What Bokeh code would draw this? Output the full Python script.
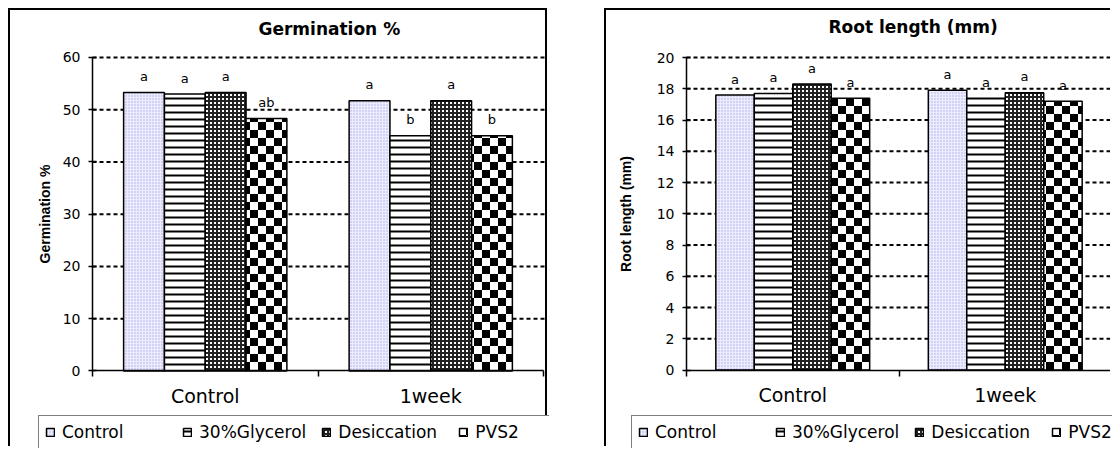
import zlib, struct, base64
from bokeh.plotting import figure
from bokeh.models import (ColumnDataSource, Range1d, FixedTicker, Legend, LegendItem,
                          ImageURLTexture, CustomJSTickFormatter, Spacer, Title)
from bokeh.transform import dodge
from bokeh.layouts import row, column
from bokeh.embed import file_html
from bokeh.resources import INLINE
from bokeh.core.properties import value

# ---------------- data ----------------
periods = ["Control", "1week"]
treatments = ["Control", "30%Glycerol", "Desiccation", "PVS2"]

germ_control = [53.3, 51.7]
germ_glycerol = [53.0, 45.0]
germ_desiccation = [53.3, 51.7]
germ_pvs2 = [48.3, 45.0]
germ_let_control = ["a", "a"]
germ_let_glycerol = ["a", "b"]
germ_let_desiccation = ["a", "a"]
germ_let_pvs2 = ["ab", "b"]
germ_ticks = [0, 10, 20, 30, 40, 50, 60]

root_control = [17.6, 17.9]
root_glycerol = [17.7, 17.4]
root_desiccation = [18.3, 17.75]
root_pvs2 = [17.4, 17.2]
root_let_control = ["a", "a"]
root_let_glycerol = ["a", "a"]
root_let_desiccation = ["a", "a"]
root_let_pvs2 = ["a", "a"]
root_ticks = [0, 2, 4, 6, 8, 10, 12, 14, 16, 18, 20]

# ---------------- styles ----------------
FONT = "DejaVu Sans"
H = 438
BAR_W = 0.181
OFFSETS = [-1.5 * BAR_W, -0.5 * BAR_W, 0.5 * BAR_W, 1.5 * BAR_W]
TOP_PAD = 6   # px of plot area above the highest tick


def checker_png(n=16, sq=8):
    raw = b""
    for yy in range(n):
        line = bytearray([0])
        for xx in range(n):
            v = 0 if ((xx // sq) + (yy // sq)) % 2 else 255
            line += bytes([v, v, v])
        raw += bytes(line)

    def chunk(tag, data):
        return (struct.pack(">I", len(data)) + tag + data +
                struct.pack(">I", zlib.crc32(tag + data) & 0xffffffff))

    ihdr = struct.pack(">IIBBBBB", n, n, 8, 2, 0, 0, 0)
    png = (b"\x89PNG\r\n\x1a\n" + chunk(b"IHDR", ihdr) +
           chunk(b"IDAT", zlib.compress(raw)) + chunk(b"IEND", b""))
    return "data:image/png;base64," + base64.b64encode(png).decode()


CHECKER_URL = checker_png()


def bar_styles():
    return [
        dict(fill_color="#ececfc", hatch_pattern="dot", hatch_color="#a9a9ec",
             hatch_scale=3, hatch_weight=1.2),
        dict(fill_color="white", hatch_pattern="horizontal_line", hatch_color="black",
             hatch_scale=7, hatch_weight=2),
        dict(fill_color="white", hatch_pattern="cross", hatch_color="#222222",
             hatch_scale=4, hatch_weight=2),
        dict(fill_color="white", hatch_pattern=value("checker"), hatch_color="black",
             hatch_scale=16,
             hatch_extra={"checker": ImageURLTexture(url=CHECKER_URL, repetition="repeat")}),
    ]


def make_chart(title, ylabel, ymax, yticks, series, letters, width,
               ax_left, ax_right, top_px, zero_px, title_gap, title_x,
               legend_loc, ylabel_standoff, border):
    n = len(periods)
    cat_px = (width - ax_left - ax_right) / n
    frame_top = top_px - TOP_PAD
    # plot area covers the whole canvas below the title; axes sit at x=0 / y=0
    x_start = -ax_left / cat_px
    x_end = n + ax_right / cat_px
    y_start = -ymax * (H - zero_px) / (zero_px - top_px)
    y_end = ymax * (zero_px - frame_top) / (zero_px - top_px)
    p = figure(width=width, height=H, x_range=Range1d(x_start, x_end),
               y_range=Range1d(y_start, y_end), output_backend="svg", toolbar_location=None,
               min_border_left=0, min_border_right=0,
               min_border_top=frame_top, min_border_bottom=0)
    p.styles = border
    p.background_fill_color = "white"
    p.border_fill_color = "white"
    p.outline_line_color = None

    p.title.text = title
    p.title.align = "left"
    p.title.offset = title_x
    p.title.text_color = "black"
    p.title.text_font = FONT
    p.title.text_font_style = "bold"
    p.title.text_font_size = "17px"
    p.title.standoff = 2
    # blank spacer between the title and the plot area
    p.add_layout(Title(text=" ", text_font_size="1px", standoff=title_gap), "above")

    # dashed horizontal grid lines at the y ticks (above zero)
    p.segment(x0=[0] * (len(yticks) - 1), x1=[x_end] * (len(yticks) - 1),
              y0=yticks[1:], y1=yticks[1:], line_color="black", line_width=2,
              line_dash="4 3", level="underlay")

    data = dict(xc=[i + 0.5 for i in range(n)])
    for k in range(len(treatments)):
        data[f"v{k}"] = series[k]
        data[f"t{k}"] = letters[k]
    src = ColumnDataSource(data)

    styles = bar_styles()
    items = []
    for k, name in enumerate(treatments):
        r = p.vbar(x=dodge("xc", OFFSETS[k], range=p.x_range), top=f"v{k}", bottom=0,
                   width=BAR_W, source=src, line_color="black", line_width=1.5, **styles[k])
        items.append(LegendItem(label=name, renderers=[r]))
        p.text(x=dodge("xc", OFFSETS[k], range=p.x_range), y=f"v{k}", text=f"t{k}",
               source=src, text_align="center", text_baseline="middle", y_offset=-16,
               text_font=value(FONT), text_font_size="13px", text_color="black")

    # y axis fixed at x = 0
    ya = p.yaxis[0]
    ya.fixed_location = 0
    ya.ticker = FixedTicker(ticks=yticks)
    ya.bounds = (0, ymax)
    ya.axis_label = ylabel
    ya.axis_label_text_font = "Liberation Sans"
    ya.axis_label_text_font_style = "bold"
    ya.axis_label_text_font_size = "14px"
    ya.axis_label_text_color = "black"
    ya.axis_label_standoff = ylabel_standoff
    ya.major_label_text_font = FONT
    ya.major_label_text_font_size = "14px"
    ya.major_label_text_color = "black"
    ya.major_label_standoff = 8
    ya.major_tick_in = 4
    ya.major_tick_out = 4
    ya.minor_tick_line_color = None
    ya.axis_line_width = 1.5
    ya.axis_line_color = "black"
    ya.major_tick_line_width = 1.5

    # x axis fixed at y = 0: labels at category centres, ticks at boundaries
    xa = p.xaxis[0]
    xa.fixed_location = 0
    xa.bounds = (0, n)
    xa.ticker = FixedTicker(ticks=[i + 0.5 for i in range(n)],
                            minor_ticks=list(range(n + 1)))
    xa.formatter = CustomJSTickFormatter(args=dict(labels=periods),
                                         code="return labels[Math.floor(tick)];")
    xa.major_tick_in = 0
    xa.major_tick_out = 0
    xa.minor_tick_in = 0
    xa.minor_tick_out = 6
    xa.minor_tick_line_color = "black"
    xa.minor_tick_line_width = 1.5
    xa.axis_line_width = 1.5
    xa.axis_line_color = "black"
    xa.major_label_standoff = 8
    xa.major_label_text_font = FONT
    xa.major_label_text_font_size = "19px"
    xa.major_label_text_color = "black"

    p.xgrid.visible = False
    p.ygrid.visible = False

    legend = Legend(items=items, orientation="horizontal", location=legend_loc,
                    padding=6, spacing=15, margin=0, glyph_width=10, glyph_height=10,
                    label_standoff=7, label_width=105,
                    label_text_font=FONT, label_text_font_size="17px",
                    label_text_color="black",
                    border_line_color="black", border_line_width=1.5,
                    background_fill_color="white", background_fill_alpha=1)
    p.add_layout(legend)
    return p


B1 = {"border-left": "2px solid black", "border-top": "2px solid black",
      "border-right": "2px solid black"}
B2 = {"border-left": "2px solid black", "border-top": "2px solid black"}

p1 = make_chart("Germination %", "Germination %", 60, germ_ticks,
                [germ_control, germ_glycerol, germ_desiccation, germ_pvs2],
                [germ_let_control, germ_let_glycerol, germ_let_desiccation, germ_let_pvs2],
                539, 82, 6, 45, 360, 9, 248, (28, -1), 7, B1)
p2 = make_chart("Root length (mm)", "Root length (mm)", 20, root_ticks,
                [root_control, root_glycerol, root_desiccation, root_pvs2],
                [root_let_control, root_let_glycerol, root_let_desiccation, root_let_pvs2],
                506, 80, 1, 47, 359.5, 11, 222, (25, -1), 20, B2)

layout = column(Spacer(height=8), row(Spacer(width=8), p1, Spacer(width=57), p2))
open("out.html", "w").write(file_html(layout, INLINE))
